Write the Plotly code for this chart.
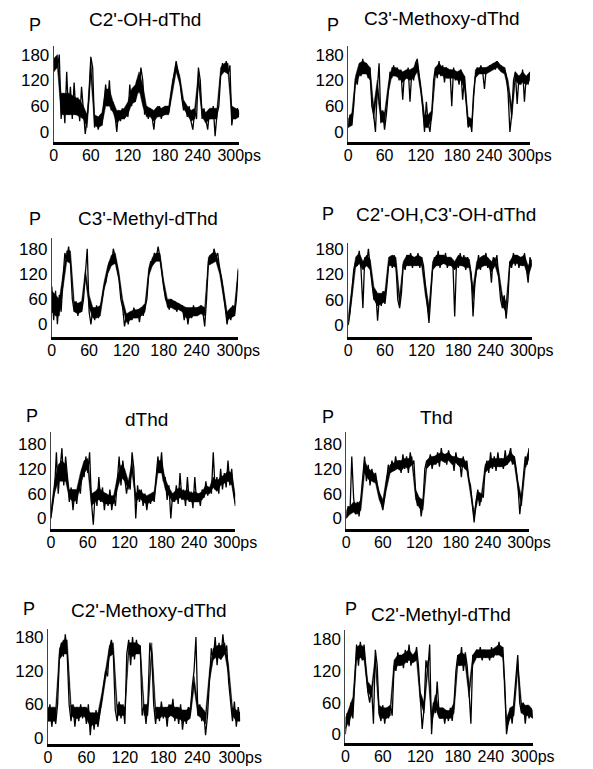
import plotly.graph_objects as go

W, H = 593, 769

TIME = list(range(0, 301, 3))
TIME_BAND = list(range(0, 301, 6))

C2OH = [140,175,150,180,30,90,20,140,40,105,30,115,40,80,25,105,50,-5,30,80,
        175,150,10,35,5,30,15,60,110,60,120,50,70,40,0,50,25,55,30,50,
        35,110,60,95,70,120,90,150,120,40,60,30,55,35,5,50,35,60,30,55,
        40,60,45,80,110,130,165,140,120,80,50,65,35,60,25,5,50,30,150,120,
        30,55,25,5,50,30,60,-10,40,60,130,160,140,165,135,155,15,50,30,55,40]
C2OH_LO = [140,150,40,40,40,40,40,35,30,10,130,15,10,15,60,60,45,20,30,30,
           40,65,70,100,60,35,35,25,35,35,40,40,95,140,110,55,40,25,30,110,
           35,20,30,30,30,130,140,135,30,30,35]
C2OH_HI = [170,180,90,90,90,85,80,75,60,40,170,40,35,45,100,100,70,50,50,55,
           70,100,110,140,110,60,55,50,60,55,60,60,120,160,130,75,60,50,55,140,
           55,45,55,55,55,150,160,160,60,55,50]

C3OMe = [10,40,15,60,125,110,150,130,170,140,160,125,150,60,40,0,100,160,20,50,
         5,40,90,140,125,155,130,150,120,145,75,140,125,150,70,140,120,160,170,130,
         100,60,0,70,20,0,45,120,150,125,165,130,155,115,150,125,145,60,150,120,
         140,110,145,75,130,80,10,30,0,90,130,150,135,155,140,100,150,140,155,145,
         160,145,165,150,155,140,150,130,90,0,40,120,140,65,130,110,145,70,130,110,140]
C3OMe_LO = [10,15,110,130,135,135,120,30,90,25,20,90,130,130,125,115,125,120,125,140,
            90,10,10,30,130,135,130,125,125,125,120,120,100,15,10,125,135,135,135,140,
            145,150,140,135,100,30,120,110,115,110,120]
C3OMe_HI = [30,45,130,160,165,160,150,60,120,50,45,110,150,150,145,140,145,145,150,165,
            110,40,40,50,150,160,150,150,145,145,140,145,130,35,30,145,150,150,150,155,
            160,165,155,150,120,60,140,130,140,130,140]

C3Me = [90,10,80,0,70,30,110,170,150,185,145,60,30,55,20,50,30,60,120,180,
        30,0,40,10,45,15,40,60,90,100,130,150,140,180,160,130,110,60,40,-5,
        20,0,30,10,40,15,35,5,40,20,40,60,120,150,140,170,155,185,160,120,
        90,60,50,35,60,40,55,30,50,35,45,10,40,0,35,15,45,20,40,25,
        45,30,-5,60,150,165,150,180,160,170,130,110,80,40,0,30,10,45,20,60,130]
C3Me_LO = [30,20,20,90,150,145,30,25,30,110,40,15,15,20,80,120,140,145,105,40,
           5,10,15,15,20,30,115,140,150,150,85,40,40,35,35,30,15,15,20,20,
           25,20,140,145,150,120,70,10,15,20,120]
C3Me_HI = [80,70,60,120,175,175,55,50,55,130,70,40,40,45,100,140,165,170,125,60,
           25,30,35,35,40,50,135,160,170,170,105,60,60,55,50,45,40,40,40,40,
           45,40,160,170,170,140,90,30,40,45,135]

C2C3OH = [0,30,80,130,150,140,175,130,40,160,140,180,135,100,60,80,10,70,45,80,
          50,90,140,160,135,165,140,60,40,75,145,130,165,140,170,135,160,140,170,135,
          160,140,90,40,5,70,135,160,140,175,135,165,145,170,135,160,140,150,20,150,
          135,170,140,165,130,160,145,120,20,100,135,165,130,160,145,170,135,150,100,160,
          140,165,110,60,40,70,15,60,150,135,170,140,165,135,160,140,170,135,100,160,140]
C2C3OH_LO = [0,60,135,145,130,140,130,60,45,50,55,140,140,135,45,135,140,140,140,140,
             140,70,20,130,140,140,145,140,140,130,140,140,135,135,60,130,135,140,140,125,
             140,110,45,30,135,145,145,140,140,115,140]
C2C3OH_HI = [20,90,160,170,150,165,155,90,75,75,80,160,165,160,70,150,165,165,160,165,
             160,100,45,150,165,165,165,160,160,150,165,160,160,155,90,150,160,165,160,150,
             160,130,70,55,150,165,165,160,165,140,155]

DTHD = [0,40,70,160,60,120,170,80,150,100,40,75,20,65,35,80,60,120,100,150,
        110,160,40,-15,60,30,100,40,75,20,60,30,70,20,55,30,90,150,80,140,
        100,60,90,70,160,120,0,80,40,70,30,60,20,55,35,60,40,100,150,110,
        160,90,100,45,80,0,60,40,80,35,110,45,70,30,100,40,65,25,100,40,
        60,30,70,50,90,55,75,60,160,70,100,60,120,70,110,75,140,80,120,60,30]
DTHD_LO = [0,60,90,90,90,50,40,45,80,110,120,30,40,45,40,35,35,35,70,100,
           90,70,110,40,50,40,35,40,45,110,110,70,55,40,45,50,45,45,40,40,
           40,45,60,60,75,65,80,85,90,80,35]
DTHD_HI = [20,90,130,140,130,70,70,70,110,140,145,60,65,75,65,60,55,55,100,130,
           120,90,140,60,70,60,55,60,65,140,140,95,75,60,70,75,65,70,60,65,
           60,65,80,75,100,90,100,105,115,110,55]

THD = [0,30,10,150,50,10,40,5,50,100,150,90,130,80,120,90,110,80,60,40,
       20,50,90,130,110,140,115,150,120,140,110,155,120,150,110,160,130,140,60,30,
       50,5,40,120,140,130,155,120,150,130,160,125,170,140,155,130,165,140,150,115,
       160,130,145,100,150,120,140,95,80,30,-10,40,70,30,60,50,120,140,110,160,
       120,150,115,160,125,145,120,165,130,150,170,130,150,120,80,10,60,110,150,130,170]
THD_LO = [0,10,15,10,20,110,95,90,85,45,25,70,110,115,120,115,125,120,130,45,
          25,20,120,130,130,135,140,135,140,130,135,125,125,115,60,0,45,40,110,120,
          125,125,125,125,130,140,130,70,30,120,145]
THD_HI = [20,30,40,35,45,140,120,115,105,65,45,100,130,135,140,140,145,145,150,70,
          50,45,140,150,150,155,160,155,160,150,150,145,145,135,80,15,65,60,130,140,
          145,145,145,145,150,160,150,90,50,140,165]

C2OMe = [30,60,20,50,25,60,150,170,145,185,150,60,30,60,20,55,30,60,35,55,
         25,60,5,45,15,50,20,45,70,100,120,110,160,175,150,50,30,65,35,60,
         25,150,175,130,180,140,175,150,165,40,60,25,65,170,150,60,25,55,30,65,
         35,55,20,60,40,70,30,55,25,60,15,45,25,55,40,90,120,180,40,60,
         30,50,5,40,110,160,140,180,130,170,140,185,150,165,100,60,30,65,20,55,30]
C2OMe_LO = [30,30,30,140,150,150,40,35,35,40,35,20,25,25,60,105,145,150,40,40,
            40,150,145,150,150,40,40,150,35,35,40,35,40,35,35,30,30,35,90,40,
            35,25,100,140,145,140,150,110,40,30,30]
C2OMe_HI = [55,55,55,160,175,175,60,55,55,55,55,45,45,45,80,120,165,170,60,60,
            55,170,170,170,165,60,60,170,55,55,55,55,60,55,55,50,50,55,110,60,
            55,45,120,160,165,165,170,130,55,50,45]

C2Me = [0,40,15,60,30,90,170,130,175,140,170,120,80,60,90,20,160,130,40,25,
        55,20,50,30,55,35,130,120,155,130,150,125,160,135,170,130,150,140,165,130,
        60,10,50,140,120,170,0,60,40,100,40,30,50,20,45,25,50,25,60,120,
        150,130,165,120,155,130,80,20,150,140,160,145,165,140,160,145,155,140,165,145,
        160,150,175,150,165,100,0,30,50,20,60,110,150,60,40,60,20,55,30,50,30]
C2Me_LO = [10,25,40,140,145,140,80,70,130,35,30,30,35,120,130,130,135,140,135,140,
           60,40,120,20,50,30,30,30,30,40,130,130,130,70,130,145,145,145,145,145,
           150,150,145,10,30,35,120,40,35,35,30]
C2Me_HI = [30,50,70,165,170,165,100,90,150,55,50,50,55,140,150,150,155,160,150,160,
           80,60,140,40,75,50,50,45,45,60,150,155,150,90,150,160,160,160,160,160,
           165,170,165,30,50,55,140,60,55,55,45]

TITLES = ["C2'-OH-dThd", "C3'-Methoxy-dThd", "C3'-Methyl-dThd", "C2'-OH,C3'-OH-dThd",
          "dThd", "Thd", "C2'-Methoxy-dThd", "C2'-Methyl-dThd"]
SERIES = [C2OH, C3OMe, C3Me, C2C3OH, DTHD, THD, C2OMe, C2Me]
BAND_LO = [C2OH_LO, C3OMe_LO, C3Me_LO, C2C3OH_LO, DTHD_LO, THD_LO, C2OMe_LO, C2Me_LO]
BAND_HI = [C2OH_HI, C3OMe_HI, C3Me_HI, C2C3OH_HI, DTHD_HI, THD_HI, C2OMe_HI, C2Me_HI]

XTICKS = [0, 60, 120, 180, 240, 300]
XTICKTEXT = ["0", "60", "120", "180", "240\u00a0\u00a0", "300ps"]
YTICKS = [0, 60, 120, 180]

# panel geometry in pixels: (x_left, x_right, y_top, y_bottom), y range, P pos, title pos
PANELS = [
    (52, 246, 43, 140, (-23, 201), (32, 22), (147, 17)),
    (360, 550, 43, 140, (-23, 201), (344, 22), (458, 16)),
    (50, 245, 237, 337, (-30, 206), (32, 218), (151, 217)),
    (360, 552, 242, 337, (-28, 194), (339, 213), (462, 213)),
    (49, 242, 433, 531, (-26, 209), (29, 417), (149, 420)),
    (358, 549, 433, 531, (-26, 209), (339, 418), (452, 418)),
    (46, 247, 632, 748, (-11, 194), (26, 612), (152, 613)),
    (357, 553, 633, 747, (-17, 197), (363, 612), (457, 617)),
]

FONT = "Liberation Sans, Arial, Helvetica, sans-serif"

fig = go.Figure()
annotations = []
layout = {}
for i, (series, lo, hi, title, geo) in enumerate(zip(SERIES, BAND_LO, BAND_HI, TITLES, PANELS)):
    xl, xr, yt, yb, yr, ppos, tpos = geo
    n = i + 1
    xa = "xaxis" if n == 1 else f"xaxis{n}"
    ya = "yaxis" if n == 1 else f"yaxis{n}"
    xref = "x" if n == 1 else f"x{n}"
    yref = "y" if n == 1 else f"y{n}"
    fig.add_trace(go.Scatter(x=TIME_BAND, y=hi, mode="lines",
                             line=dict(color="black", width=0.5),
                             xaxis=xref, yaxis=yref, showlegend=False,
                             hoverinfo="skip"))
    fig.add_trace(go.Scatter(x=TIME_BAND, y=lo, mode="lines", fill="tonexty",
                             fillcolor="black",
                             line=dict(color="black", width=0.5),
                             xaxis=xref, yaxis=yref, showlegend=False,
                             hoverinfo="skip"))
    fig.add_trace(go.Scatter(x=TIME, y=series, mode="lines",
                             line=dict(color="black", width=1.3),
                             xaxis=xref, yaxis=yref, showlegend=False,
                             hoverinfo="skip"))
    layout[xa] = dict(domain=[xl / W, xr / W], range=[0, 300], anchor=yref,
                      showgrid=False, zeroline=False, showline=True,
                      linecolor="black", linewidth=2.5, ticks="",
                      tickvals=XTICKS, ticktext=XTICKTEXT, tickangle=0,
                      ticklabelstandoff=-3,
                      tickfont=dict(family=FONT, size=16, color="black"))
    layout[ya] = dict(domain=[1 - yb / H, 1 - yt / H], range=list(yr), anchor=xref,
                      showgrid=False, zeroline=False, showline=True,
                      linecolor="#444", linewidth=1, ticks="",
                      tickvals=YTICKS, tickangle=0,
                      tickfont=dict(family=FONT, size=17, color="black"))
    annotations.append(dict(text="P", x=ppos[0] / W, y=1 - ppos[1] / H,
                            xref="paper", yref="paper", showarrow=False,
                            xanchor="center", yanchor="middle",
                            font=dict(family=FONT, size=18, color="black")))
    annotations.append(dict(text=title, x=tpos[0] / W, y=1 - tpos[1] / H,
                            xref="paper", yref="paper", showarrow=False,
                            xanchor="center", yanchor="middle",
                            font=dict(family=FONT, size=19, color="black")))

fig.update_layout(width=W, height=H, margin=dict(l=0, r=0, t=0, b=0),
                  paper_bgcolor="white", plot_bgcolor="white",
                  annotations=annotations, **layout)

fig.write_html("out.html")
